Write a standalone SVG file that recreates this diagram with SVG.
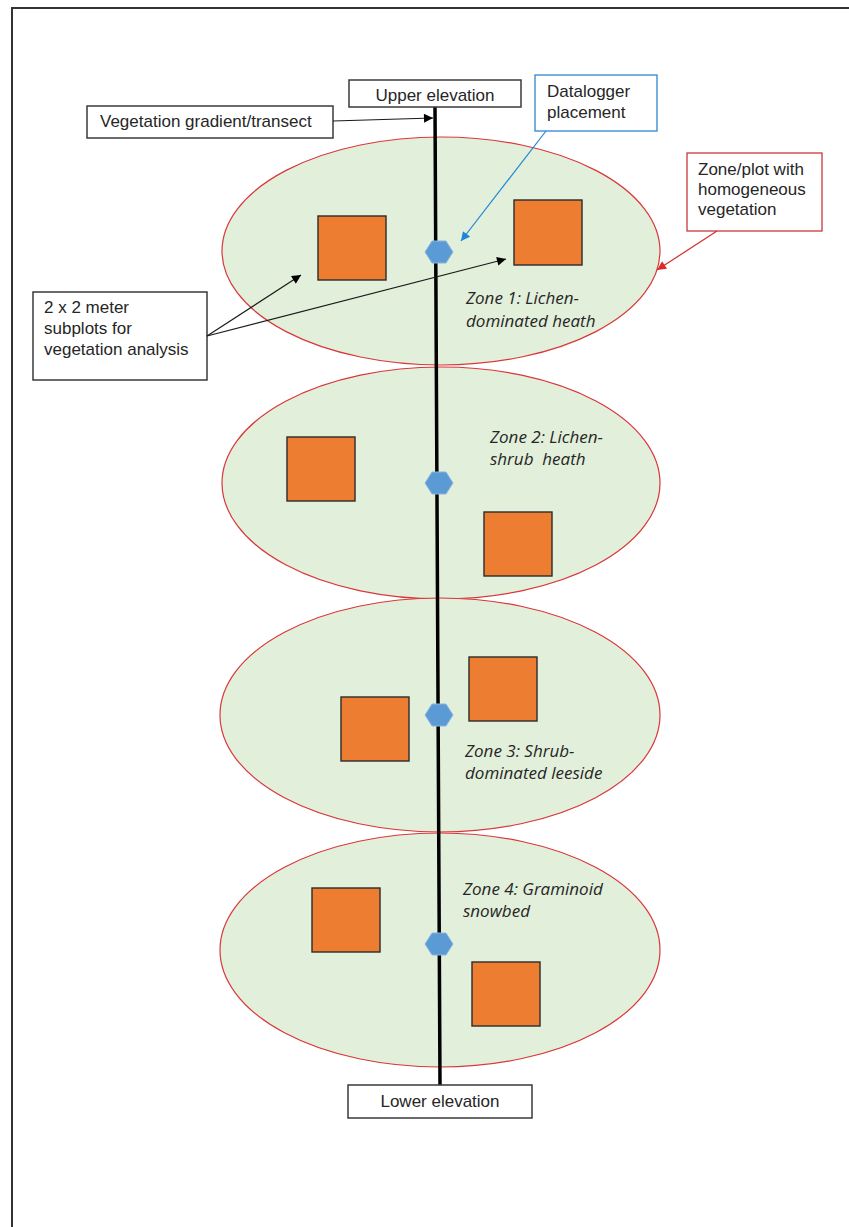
<svg xmlns="http://www.w3.org/2000/svg" width="849" height="1227" viewBox="0 0 849 1227">
<defs>
<style>
.zone{fill:#E2EFDA;stroke:#D9373A;stroke-width:1.2}
.sq{fill:#ED7D31;stroke:#2b2b2b;stroke-width:1.4}
.hex{fill:#5B9BD5;stroke:#8DB4E0;stroke-width:1}
.box{fill:#fff;stroke:#3a3a3a;stroke-width:1.5}
.lbl{font-family:"Liberation Sans",Arial,sans-serif;font-size:17px;fill:#262626}
.ztxt{font-family:"Open Sans","Noto Sans",sans-serif;font-style:italic;font-size:17px;fill:#262626}
.blk{stroke:#1a1a1a;stroke-width:1.2;fill:none}
</style>
<marker id="ab" viewBox="0 0 10 10" refX="10" refY="5" markerWidth="11" markerHeight="9" markerUnits="userSpaceOnUse" orient="auto"><path d="M0,0 L10,5 L0,10 Z" fill="#000"/></marker>
<marker id="abl" viewBox="0 0 10 10" refX="10" refY="5" markerWidth="11" markerHeight="9" markerUnits="userSpaceOnUse" orient="auto"><path d="M0,0 L10,5 L0,10 Z" fill="#1F86D6"/></marker>
<marker id="ar" viewBox="0 0 10 10" refX="10" refY="5" markerWidth="11" markerHeight="9" markerUnits="userSpaceOnUse" orient="auto"><path d="M0,0 L10,5 L0,10 Z" fill="#D62B2B"/></marker>
</defs>
<rect width="849" height="1227" fill="#fff"/>
<path d="M12,1227 V8 H849" fill="none" stroke="#333" stroke-width="2"/>

<g id="zone1">
<ellipse class="zone" cx="441" cy="251" rx="219" ry="114"/>
<rect class="sq" x="318" y="216" width="68" height="64"/>
<rect class="sq" x="514" y="200" width="68" height="65"/>
<text class="ztxt" x="466" y="304">Zone 1: Lichen-</text>
<text class="ztxt" x="466" y="327">dominated heath</text>
</g>
<g id="zone2">
<ellipse class="zone" cx="441" cy="483" rx="219" ry="116"/>
<rect class="sq" x="287" y="437" width="68" height="64"/>
<rect class="sq" x="484" y="512" width="68" height="64"/>
<text class="ztxt" x="490" y="443">Zone 2: Lichen-</text>
<text class="ztxt" x="490" y="465" xml:space="preserve">shrub  heath</text>
</g>
<g id="zone3">
<ellipse class="zone" cx="440" cy="715" rx="220" ry="117"/>
<rect class="sq" x="341" y="697" width="68" height="64"/>
<rect class="sq" x="469" y="657" width="68" height="64"/>
<text class="ztxt" x="465" y="757">Zone 3: Shrub-</text>
<text class="ztxt" x="465" y="779">dominated leeside</text>
</g>
<g id="zone4">
<ellipse class="zone" cx="440" cy="950" rx="220" ry="117"/>
<rect class="sq" x="312" y="888" width="68" height="64"/>
<rect class="sq" x="472" y="962" width="68" height="64"/>
<text class="ztxt" x="463" y="895">Zone 4: Graminoid</text>
<text class="ztxt" x="463" y="917">snowbed</text>
</g>

<g id="transect">
<path d="M435,107 L437,500 L440,1085" fill="none" stroke="#000" stroke-width="3.5"/>
</g>

<g id="dataloggers">
<polygon class="hex" points="425,252 432,241 446,241 453,252 446,263 432,263"/>
<polygon class="hex" points="425,483 432,472 446,472 453,483 446,494 432,494"/>
<polygon class="hex" points="425,715 432,704 446,704 453,715 446,726 432,726"/>
<polygon class="hex" points="425,944 432,933 446,933 453,944 446,955 432,955"/>
</g>

<g id="upper-elevation">
<rect class="box" x="349" y="80" width="172" height="27"/>
<text class="lbl" x="435" y="101" text-anchor="middle">Upper elevation</text>
</g>
<g id="lower-elevation">
<rect class="box" x="348" y="1085" width="184" height="33"/>
<text class="lbl" x="440" y="1107" text-anchor="middle">Lower elevation</text>
</g>
<g id="vegetation-gradient">
<rect class="box" x="87" y="106" width="246" height="32"/>
<text class="lbl" x="100" y="127">Vegetation gradient/transect</text>
</g>
<g id="datalogger-placement">
<rect x="535" y="75" width="122" height="56" fill="#fff" stroke="#2E86D0" stroke-width="1.3"/>
<text class="lbl" x="547" y="97">Datalogger</text>
<text class="lbl" x="547" y="118">placement</text>
</g>
<g id="zone-plot">
<rect x="687" y="153" width="135" height="78" fill="#fff" stroke="#C8383A" stroke-width="1.3"/>
<text class="lbl" x="698" y="175">Zone/plot with</text>
<text class="lbl" x="698" y="195">homogeneous</text>
<text class="lbl" x="698" y="215">vegetation</text>
</g>
<g id="subplots">
<rect class="box" x="33" y="292" width="174" height="88"/>
<text class="lbl" x="44" y="313">2 x 2 meter</text>
<text class="lbl" x="44" y="334">subplots for</text>
<text class="lbl" x="44" y="355">vegetation analysis</text>
</g>

<g id="connectors">
<line class="blk" x1="333" y1="121" x2="433" y2="118" marker-end="url(#ab)"/>
<line x1="546" y1="131" x2="461" y2="241" stroke="#1F86D6" stroke-width="1.2" marker-end="url(#abl)"/>
<line x1="717" y1="231" x2="657" y2="270" stroke="#D62B2B" stroke-width="1.2" marker-end="url(#ar)"/>
<line class="blk" x1="207" y1="336" x2="301" y2="275" marker-end="url(#ab)"/>
<line class="blk" x1="207" y1="336" x2="506" y2="259" marker-end="url(#ab)"/>
</g>
</svg>
